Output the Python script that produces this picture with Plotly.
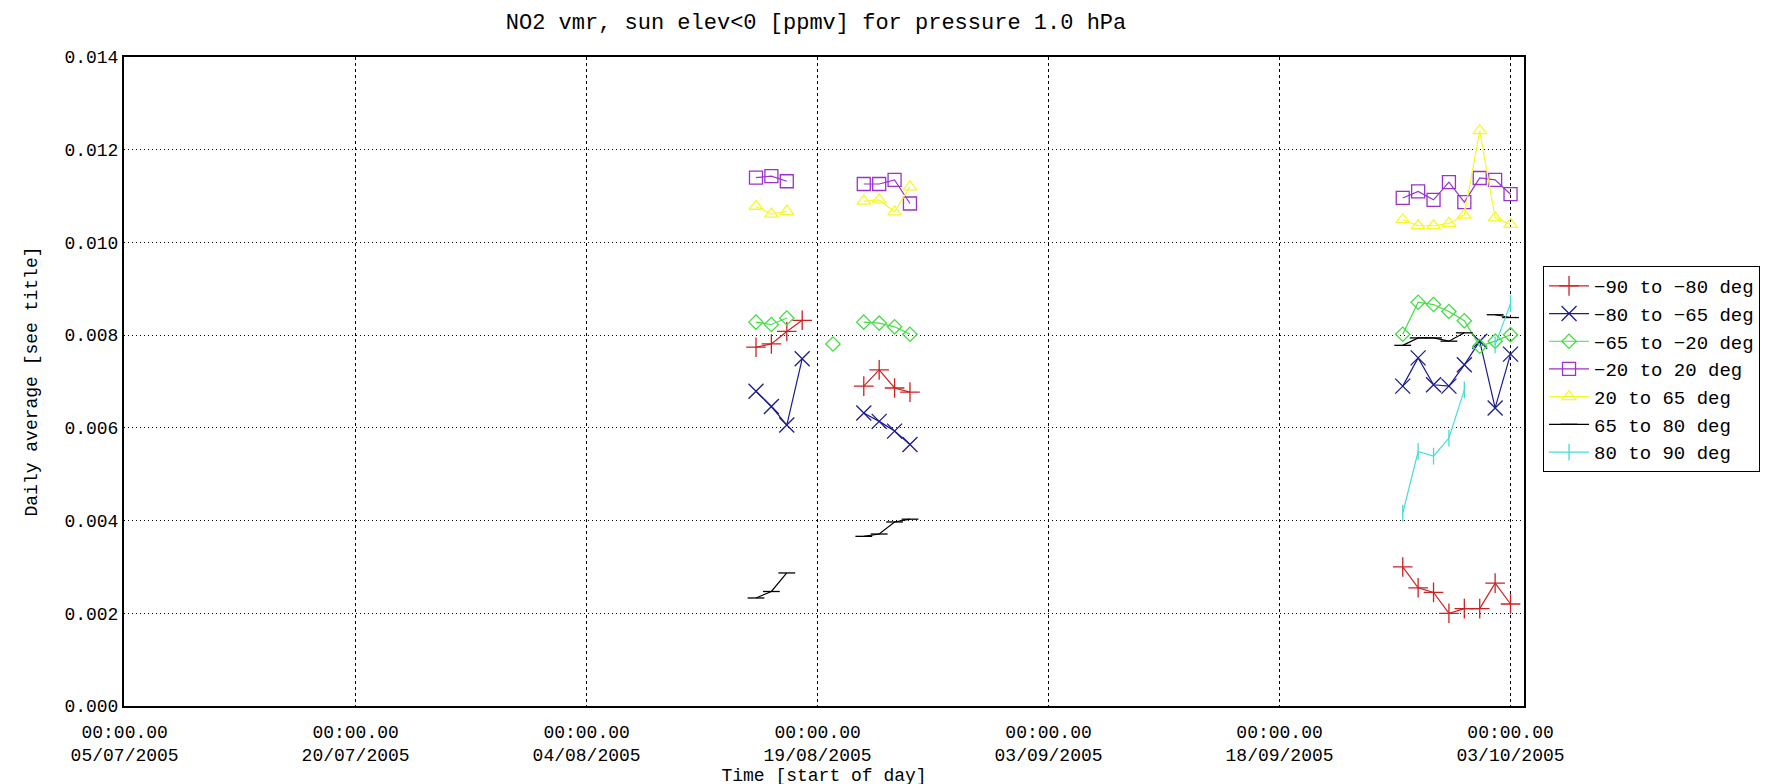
import plotly.graph_objects as go

# days with data (a None row on 25/09 breaks the line between the Aug and Sep runs)
dates = ["2005-08-15", "2005-08-16", "2005-08-17", "2005-08-18", "2005-08-19",
         "2005-08-20", "2005-08-21", "2005-08-22", "2005-08-23", "2005-08-24",
         "2005-08-25", "2005-09-25", "2005-09-26", "2005-09-27", "2005-09-28",
         "2005-09-29", "2005-09-30", "2005-10-01", "2005-10-02", "2005-10-03"]

s_90_80 = [0.00774, 0.00781, 0.00808, 0.00832, None, None, None,
           0.00690, 0.00725, 0.00686, 0.00677, None,
           0.00300, 0.00255, 0.00245, 0.00200, 0.00210, 0.00210, 0.00265, 0.00220]
s_80_65 = [0.00679, 0.00646, 0.00606, 0.00749, None, None, None,
           0.00632, 0.00614, 0.00593, 0.00564, None,
           0.00690, 0.00751, 0.00693, 0.00690, 0.00736, 0.00787, 0.00643, 0.00759]
s_65_20 = [0.00828, 0.00823, 0.00837, None, None, 0.00781, None,
           0.00828, 0.00826, 0.00818, 0.00802, None,
           0.00802, 0.00871, 0.00866, 0.00851, 0.00831, 0.00776, 0.00787, 0.00801]
s_20_20 = [0.01140, 0.01143, 0.01132, None, None, None, None,
           0.01126, 0.01126, 0.01135, 0.01084, None,
           0.01096, 0.01110, 0.01092, 0.01130, 0.01087, 0.01139, 0.01135, 0.01104]
s_20_65 = [0.01078, 0.01061, 0.01067, None, None, None, None,
           0.01089, 0.01092, 0.01066, 0.01120, None,
           0.01049, 0.01036, 0.01036, 0.01041, 0.01059, 0.01241, 0.01053, 0.01039]
s_65_80 = [0.00233, 0.00247, 0.00287, None, None, None, None,
           0.00366, 0.00371, 0.00397, 0.00403, None,
           0.00778, 0.00794, 0.00794, 0.00787, 0.00805, None, 0.00844, 0.00838]
s_80_90 = [None, None, None, None, None, None, None,
           None, None, None, None, None,
           0.00416, 0.00549, 0.00539, 0.00578, 0.00682, None, 0.00779, 0.00868]

names = ["\u221290 to \u221280 deg", "\u221280 to \u221265 deg", "\u221265 to \u221220 deg",
         "\u221220 to 20 deg", "20 to 65 deg", "65 to 80 deg", "80 to 90 deg"]
colors = ["#cc2222", "#1c1c8c", "#44dd44", "#9933cc", "#f7f72a", "#000000", "#44dcd8"]
symbols = ["cross-thin", "x-thin", "diamond-open", "square-open",
           "triangle-up-open", "line-ew", "line-ns"]
sizes = [14, 15, 11, 13, 12, 12, 12]

tick_dates = ["2005-07-05", "2005-07-20", "2005-08-04", "2005-08-19",
              "2005-09-03", "2005-09-18", "2005-10-03"]
tick_text = ["00:00.00<br>05/07/2005", "00:00.00<br>20/07/2005", "00:00.00<br>04/08/2005",
             "00:00.00<br>19/08/2005", "00:00.00<br>03/09/2005", "00:00.00<br>18/09/2005",
             "00:00.00<br>03/10/2005"]

series = [s_90_80, s_80_65, s_65_20, s_20_20, s_20_65, s_65_80, s_80_90]

fig = go.Figure()
for vals, nm, col, sym, sz in zip(series, names, colors, symbols, sizes):
    fig.add_trace(go.Scatter(
        x=dates, y=vals, name=nm, mode="lines+markers", connectgaps=False,
        line=dict(color=col, width=1.2),
        marker=dict(symbol=sym, size=sz, color=col, line=dict(color=col, width=1.3)),
    ))

fnt = "Liberation Mono, DejaVu Sans Mono, monospace"
fig.update_layout(
    width=1769, height=784,
    margin=dict(l=116, r=253, t=49, b=86),
    paper_bgcolor="white", plot_bgcolor="white",
    font=dict(family=fnt, size=19, color="black"),
    title=dict(text="NO2 vmr, sun elev<0 [ppmv] for pressure 1.0 hPa",
               x=(808 / 1769), xanchor="center", y=1 - 13 / 784, yanchor="middle",
               font=dict(size=22)),
    legend=dict(x=1.0136, y=0.678, xanchor="left", yanchor="top",
                bordercolor="black", borderwidth=1, bgcolor="white",
                font=dict(size=19), tracegroupgap=0, itemwidth=40),
    showlegend=True,
)
fig.update_xaxes(
    type="date", range=["2005-07-04 23:00", "2005-10-03 21:00"],
    tickmode="array", tickvals=tick_dates, ticktext=tick_text,
    showgrid=True, gridcolor="black", gridwidth=1, griddash="3px,3px",
    showline=True, linecolor="black", linewidth=2, mirror=True,
    zeroline=False, ticks="", tickfont=dict(size=18), ticklabelstandoff=8,
    title=dict(text="Time [start of day]", font=dict(size=18), standoff=2),
)
fig.update_yaxes(
    range=[0, 0.014], tickvals=[0, 0.002, 0.004, 0.006, 0.008, 0.010, 0.012, 0.014],
    tickformat=".3f",
    showgrid=True, gridcolor="black", gridwidth=1, griddash="1px,3px",
    showline=True, linecolor="black", linewidth=2, mirror=True,
    zeroline=False, ticks="", tickfont=dict(size=18),
    title=dict(text="Daily average [see title]", font=dict(size=18), standoff=22),
)

fig.write_html("out.html")
